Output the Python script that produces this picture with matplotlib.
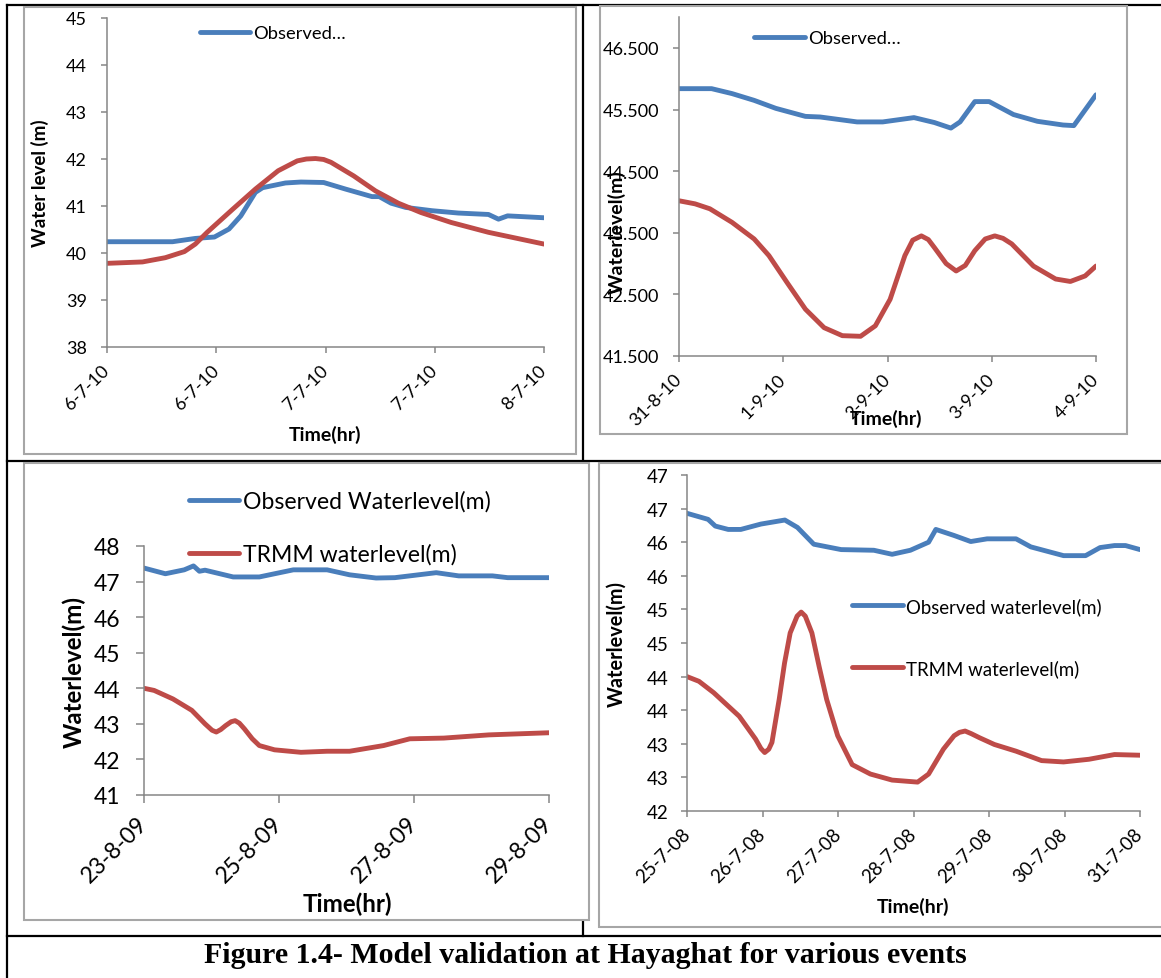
import math
import matplotlib
matplotlib.use("Agg")
import matplotlib.pyplot as plt
from matplotlib.lines import Line2D
from matplotlib.patches import Rectangle

plt.rcParams['font.family'] = ['Lato', 'DejaVu Sans']

# ---------------- DATA ----------------
# Panel A (top-left): 6-7-10 .. 8-7-10, hours from start
a_obs_t = [0, 7.2, 9.7, 11.8, 13.4, 14.7, 16.3, 17.1, 19.6, 21.3, 23.8, 26.2, 29.1, 29.9, 31.2, 32.8, 35.7, 38.6, 41.9, 43.0, 44.0, 48]
a_obs_v = [40.24, 40.24, 40.31, 40.34, 40.51, 40.79, 41.29, 41.39, 41.49, 41.51, 41.50, 41.36, 41.20, 41.20, 41.06, 40.97, 40.90, 40.85, 40.82, 40.72, 40.79, 40.75]
a_trmm_t = [0, 3.9, 6.4, 8.5, 9.7, 11.0, 13.8, 16.3, 18.8, 20.9, 21.9, 22.9, 23.8, 24.6, 27.1, 29.5, 32.0, 34.5, 37.8, 41.9, 48]
a_trmm_v = [39.78, 39.81, 39.90, 40.03, 40.19, 40.44, 40.93, 41.36, 41.75, 41.96, 42.00, 42.01, 41.99, 41.93, 41.64, 41.32, 41.06, 40.86, 40.65, 40.44, 40.19]
a_xticks = [0, 12, 24, 36, 48]
a_xlabels = ['6-7-10', '6-7-10', '7-7-10', '7-7-10', '8-7-10']
a_yticks = [38, 39, 40, 41, 42, 43, 44, 45]

# Panel B (top-right): 31-8-10 .. 4-9-10
b_obs_t = [0, 7.5, 12.2, 17.3, 22.3, 29.1, 32.5, 41.0, 46.9, 54.1, 58.8, 62.6, 64.7, 68.1, 71.4, 77.0, 82.5, 88.4, 90.9, 96]
b_obs_v = [45.84, 45.84, 45.76, 45.65, 45.52, 45.39, 45.38, 45.30, 45.30, 45.37, 45.29, 45.20, 45.30, 45.63, 45.63, 45.42, 45.31, 45.25, 45.24, 45.74]
b_trmm_t = [0, 3.7, 7.1, 12.2, 17.3, 20.7, 24.9, 29.1, 33.4, 37.6, 41.8, 45.2, 48.6, 52.0, 53.8, 55.8, 57.4, 58.8, 61.5, 63.8, 65.9, 68.1, 70.5, 72.7, 74.6, 76.6, 81.6, 86.7, 90.1, 93.5, 96]
b_trmm_v = [44.02, 43.97, 43.89, 43.67, 43.40, 43.13, 42.69, 42.26, 41.96, 41.83, 41.82, 41.99, 42.42, 43.13, 43.38, 43.45, 43.39, 43.26, 43.00, 42.88, 42.97, 43.21, 43.40, 43.45, 43.41, 43.32, 42.96, 42.75, 42.71, 42.80, 42.96]
b_xticks = [0, 24, 48, 72, 96]
b_xlabels = ['31-8-10', '1-9-10', '2-9-10', '3-9-10', '4-9-10']
b_yticks = [41.5, 42.5, 43.5, 44.5, 45.5, 46.5]
b_ylabels = ['41.500', '42.500', '43.500', '44.500', '45.500', '46.500']

# Panel C (bottom-left): 23-8-09 .. 29-8-09
c_obs_t = [0, 7.6, 14.3, 17.6, 19.7, 21.7, 31.7, 41.0, 53.1, 65.1, 73.1, 82.5, 89.2, 103.9, 111.9, 123.9, 129.3, 144]
c_obs_v = [47.38, 47.22, 47.33, 47.44, 47.29, 47.32, 47.13, 47.13, 47.33, 47.33, 47.19, 47.10, 47.11, 47.25, 47.16, 47.16, 47.11, 47.11]
c_trmm_t = [0, 3.6, 10.3, 17.0, 21.7, 24.2, 25.7, 27.3, 29.0, 31.0, 32.4, 33.9, 35.7, 38.5, 41.0, 46.4, 55.8, 65.1, 73.1, 85.2, 94.5, 106.6, 122.6, 144]
c_trmm_v = [44.00, 43.94, 43.70, 43.38, 43.00, 42.82, 42.77, 42.84, 42.95, 43.06, 43.09, 43.02, 42.86, 42.58, 42.39, 42.27, 42.20, 42.23, 42.23, 42.39, 42.58, 42.60, 42.69, 42.75]
c_xticks = [0, 48, 96, 144]
c_xlabels = ['23-8-09', '25-8-09', '27-8-09', '29-8-09']
c_yticks = [41, 42, 43, 44, 45, 46, 47, 48]

# Panel D (bottom-right): 25-7-08 .. 31-7-08
d_obs_t = [0, 6.7, 9.0, 13.1, 17.1, 23.5, 31.1, 35.1, 40.3, 49.0, 59.4, 65.2, 71.0, 76.8, 79.1, 84.9, 90.2, 95.4, 104.6, 109.3, 119.7, 126.7, 131.3, 135.9, 139.4, 144]
d_obs_v = [46.43, 46.34, 46.24, 46.19, 46.19, 46.27, 46.33, 46.22, 45.97, 45.89, 45.88, 45.82, 45.88, 46.00, 46.19, 46.10, 46.01, 46.05, 46.05, 45.93, 45.80, 45.80, 45.92, 45.95, 45.95, 45.89]
d_trmm_t = [0, 3.8, 8.5, 16.6, 21.8, 23.5, 24.7, 26.0, 27.0, 29.3, 31.0, 32.8, 35.0, 36.3, 37.6, 39.7, 42.0, 44.4, 47.9, 52.5, 58.3, 65.2, 73.3, 76.8, 81.5, 84.9, 86.6, 88.4, 90.4, 93.0, 97.7, 104.6, 112.7, 119.7, 127.8, 135.9, 144]
d_trmm_v = [44.00, 43.93, 43.76, 43.41, 43.07, 42.93, 42.87, 42.92, 43.02, 43.66, 44.20, 44.65, 44.90, 44.96, 44.90, 44.65, 44.15, 43.66, 43.12, 42.69, 42.55, 42.46, 42.43, 42.55, 42.92, 43.12, 43.17, 43.19, 43.15, 43.09, 42.99, 42.89, 42.75, 42.73, 42.77, 42.84, 42.83]
d_xticks = [0, 24, 48, 72, 96, 120, 144]
d_xlabels = ['25-7-08', '26-7-08', '27-7-08', '28-7-08', '29-7-08', '30-7-08', '31-7-08']
d_yticks = [42, 42.5, 43, 43.5, 44, 44.5, 45, 45.5, 46, 46.5, 47]

obs_label_short = 'Observed…'
obs_label_c = 'Observed Waterlevel(m)'
obs_label_d = 'Observed waterlevel(m)'
trmm_label = 'TRMM waterlevel(m)'
caption = 'Figure 1.4- Model validation at Hayaghat for various events'

# ---------------- STYLE ----------------
W, H = 1161, 979
BLUE = '#4A7EBB'
RED = '#BE4B48'
AXC = '#868686'
LW = 3.5

fig = plt.figure(figsize=(W / 100, H / 100), dpi=100)

def fx(x):
    return x / W

def fy(y):
    return 1 - y / H

# background layer for table lines and chart-area frames
bg = fig.add_axes([0, 0, 1, 1], zorder=0)
bg.set_xlim(0, W)
bg.set_ylim(H, 0)
bg.axis('off')

for (xs, ys) in [([7, W], [5.7, 5.7]), ([7, 7], [5.7, H]), ([7, W], [462, 462]),
                 ([7, W], [937, 937]), ([583, 583], [5.7, 937])]:
    bg.add_line(Line2D(xs, ys, color='black', lw=1.6, zorder=1))

for (x0, y0, x1, y1) in [(24, 7.5, 576, 455), (600, 6.5, 1127, 435),
                         (24, 464, 589, 921), (599, 464, 1175, 928)]:
    bg.add_patch(Rectangle((x0, y0), x1 - x0, y1 - y0, facecolor='white',
                           edgecolor='#A6A6A6', lw=1.5, zorder=2))

bg.text(585.5, 963, caption, ha='center', va='baseline', fontsize=21.5,
        fontweight='bold', family=['Liberation Serif', 'DejaVu Serif'], zorder=3)


def make_axes(x0, x1, ytop, ybot):
    ax = fig.add_axes([fx(x0), fy(ybot), (x1 - x0) / W, (ybot - ytop) / H], zorder=2)
    ax.set_facecolor('none')
    for s in ['top', 'right']:
        ax.spines[s].set_visible(False)
    for s in ['left', 'bottom']:
        ax.spines[s].set_color(AXC)
        ax.spines[s].set_linewidth(1.1)
    return ax


def style(ax, xlim, ylim, xticks, xlabels, yticks, ylabels, fs, tlen, ypad, xpad):
    ax.set_xlim(*xlim)
    ax.set_ylim(*ylim)
    ax.set_xticks(xticks)
    ax.set_xticklabels(xlabels, rotation=45, ha='right', va='center', rotation_mode='anchor')
    ax.set_yticks(yticks)
    if ylabels is not None:
        ax.set_yticklabels(ylabels)
    ax.tick_params(axis='both', direction='out', length=tlen, width=1.1, color=AXC,
                   labelsize=fs, labelcolor='black')
    ax.tick_params(axis='y', pad=ypad)
    ax.tick_params(axis='x', pad=xpad)


def legend_entry(color, label, x_line0, x_line1, y, x_text, fs):
    fs_px = fs * 100 / 72
    h = Line2D([], [], color=color, lw=LW, solid_capstyle='round')
    fig.legend([h], [label], loc='center left',
               bbox_to_anchor=(fx(x_line0), fy(y)), bbox_transform=fig.transFigure,
               frameon=False, fontsize=fs, borderpad=0, borderaxespad=0,
               handlelength=(x_line1 - x_line0) / fs_px,
               handletextpad=(x_text - x_line1) / fs_px)


def axis_titles(ylab, ylx, yly, xlab, xlx, xly, yfs, xfs):
    fig.text(fx(ylx), fy(yly), ylab, rotation=90, ha='center', va='center',
             fontsize=yfs, fontweight='bold')
    fig.text(fx(xlx), fy(xly), xlab, ha='center', va='center',
             fontsize=xfs, fontweight='bold')


def draw(ax, t1, v1, t2, v2):
    ax.plot(t1, v1, color=BLUE, lw=LW, solid_joinstyle='round', solid_capstyle='round')
    ax.plot(t2, v2, color=RED, lw=LW, solid_joinstyle='round', solid_capstyle='round')

# Panel A
axA = make_axes(107, 544, 19, 348)
draw(axA, a_obs_t, a_obs_v, a_trmm_t, a_trmm_v)
style(axA, (0, 48), (38, 45), a_xticks, a_xlabels, a_yticks, None, 13, 4.5, 10, 10)
legend_entry(BLUE, obs_label_short, 200, 250, 34, 253, 13.2)
axis_titles('Water level (m)', 40, 183, 'Time(hr)', 325, 435, 13.5, 14)

# Panel B
axB = make_axes(679, 1096, 18.2, 357)
draw(axB, b_obs_t, b_obs_v, b_trmm_t, b_trmm_v)
style(axB, (0, 96), (41.5, 47.0), b_xticks, b_xlabels, b_yticks, b_ylabels, 13, 4.5, 10, 10)
legend_entry(BLUE, obs_label_short, 754, 805, 39, 808, 13.2)
axis_titles('Waterlevel(m)', 617, 232, 'Time(hr)', 886, 419, 14, 14)

# Panel C
axC = make_axes(144, 549, 547, 796)
draw(axC, c_obs_t, c_obs_v, c_trmm_t, c_trmm_v)
style(axC, (0, 144), (41, 48), c_xticks, c_xlabels, c_yticks, None, 16.5, 6, 11, 12)
legend_entry(BLUE, obs_label_c, 189, 239, 502, 243, 16.6)
legend_entry(RED, trmm_label, 189, 239, 555, 243, 16.6)
axis_titles('Waterlevel(m)', 74, 672, 'Time(hr)', 347, 904, 17.4, 17.4)

# Panel D
axD = make_axes(687, 1140, 476, 812)
draw(axD, d_obs_t, d_obs_v, d_trmm_t, d_trmm_v)
d_ylabels = [str(int(math.floor(v + 0.5))) for v in d_yticks]
style(axD, (0, 144), (42, 47), d_xticks, d_xlabels, d_yticks, d_ylabels, 13.5, 4.5, 9, 10)
legend_entry(BLUE, obs_label_d, 852, 903, 607, 906, 13.4)
legend_entry(RED, trmm_label, 852, 903, 669, 906, 13.4)
axis_titles('Waterlevel(m)', 617, 644, 'Time(hr)', 913, 907, 14.3, 14)

fig.savefig('out.png', dpi=100)
